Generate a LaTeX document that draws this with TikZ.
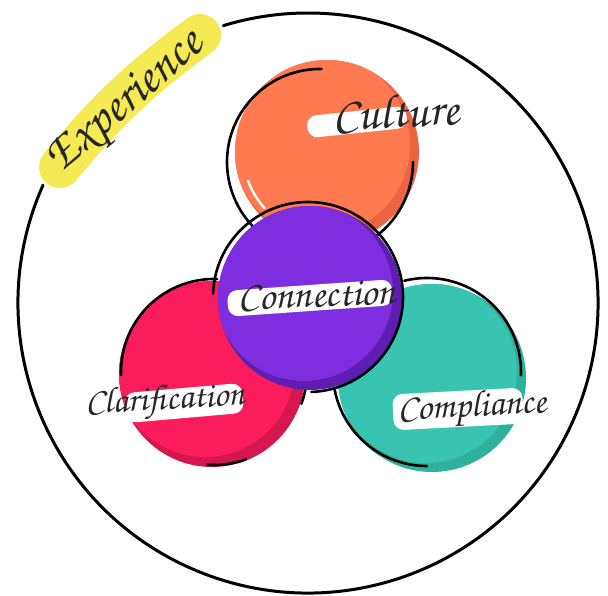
\documentclass[tikz,border=0pt]{standalone}
\usepackage[T1,TU]{fontenc}
\usepackage{tikz}
\pgfdeclarelayer{balllayer}
\pgfdeclarelayer{wordlayer}
\pgfsetlayers{balllayer,main,wordlayer}
\definecolor{orangebase}{RGB}{255,122,80}
\definecolor{orangedark}{RGB}{236,100,66}
\definecolor{purplebase}{RGB}{126,46,222}
\definecolor{purpledark}{RGB}{94,30,178}
\definecolor{pinkbase}{RGB}{250,28,92}
\definecolor{pinkdark}{RGB}{214,22,80}
\definecolor{tealbase}{RGB}{56,196,176}
\definecolor{tealdark}{RGB}{46,178,158}
\definecolor{highlighter}{RGB}{246,234,84}
\newcommand{\handwrite}[1]{\fontencoding{T1}\fontfamily{pzc}\fontseries{mb}\fontshape{it}\fontsize{#1}{#1}\selectfont}
\tikzstyle{word}=[text=black!85, inner sep=0pt]
\tikzstyle{brush}=[fill=white, rounded corners=10pt, inner sep=0pt]
\tikzstyle{outline}=[draw=black, line width=2.6pt, line cap=round]

\begin{document}
\begin{tikzpicture}[x=1pt, y=1pt]
	\useasboundingbox (0,0) rectangle (608,595);
	\begin{pgfonlayer}{balllayer}
		% outer ring, open where the tag sits
		\draw [line width=3pt, line cap=round] (308,292) ++(156:290) arc (156:467:290);
		\draw [line width=42pt, line cap=round, highlighter] (60,428) to [bend left=7] (200,560);
		% culture
		\fill [orangedark] (327,443) circle (92);
		\begin{scope}
			\clip (327,443) circle (92);
			\fill [orangebase] (320,450) circle (90);
		\end{scope}
		\draw [white, line width=2.4pt, line cap=round] (327,443) ++(200:84) arc (200:222:84);
		\draw [style=outline] (320,433) ++(89:93) arc (89:226:93);
		\draw [style=outline] (320,433) ++(0:93) arc (0:-53:93);
		% clarification
		\fill [pinkdark] (212,221) circle (93);
		\begin{scope}
			\clip (212,221) circle (93);
			\fill [pinkbase] (205,228) circle (90);
		\end{scope}
		\draw [style=outline] (214,223) ++(88:93) arc (88:182:93);
		\draw [style=outline] (214,223) ++(266:93) arc (266:290:93);
		\draw [style=outline] (214,223) ++(-20:93) arc (-20:-7:93);
		% compliance
		\fill [tealdark] (432,217) circle (94);
		\begin{scope}
			\clip (432,217) circle (94);
			\fill [tealbase] (426,223) circle (91);
		\end{scope}
		\draw [style=outline] (427,223) ++(104:94) arc (104:-2:94);
		\draw [style=outline] (427,223) ++(191:94) arc (191:270:94);
		% connection
		\fill [purpledark] (310,297) circle (92);
		\begin{scope}
			\clip (310,297) circle (92);
			\fill [purplebase] (304,303) circle (89);
		\end{scope}
		\draw [style=outline] (308,298) ++(178:95) arc (178:-88:95);
	\end{pgfonlayer}
	\begin{pgfonlayer}{main}
		\node [style=brush, minimum width=100pt, minimum height=22pt, rotate=6] (1b) at (357,473) {};
		\node [style=brush, minimum width=165pt, minimum height=26pt, rotate=4] (2b) at (310,297) {};
		\node [style=brush, minimum width=118pt, minimum height=30pt, rotate=5] (3b) at (184,192) {};
		\node [style=brush, minimum width=130pt, minimum height=36pt, rotate=3] (4b) at (458,186) {};
	\end{pgfonlayer}
	\begin{pgfonlayer}{wordlayer}
		\node [style=word, font=\handwrite{48}, rotate=3] (1) at (396,484) {Culture};
		\node [style=word, font=\handwrite{40}, rotate=2] (2) at (317,300) {Connection};
		\node [style=word, font=\handwrite{36}, rotate=3] (3) at (165,193) {Clarification};
		\node [style=word, font=\handwrite{37}, rotate=3] (4) at (472,186) {Compliance};
		\node [style=word, font=\handwrite{50}, rotate=41] (5) at (128,490) {Experience};
	\end{pgfonlayer}
\end{tikzpicture}
\end{document}
